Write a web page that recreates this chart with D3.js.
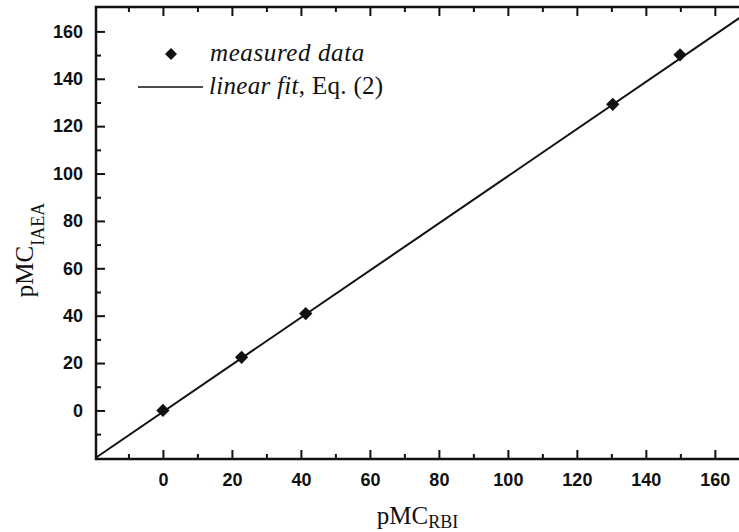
<!DOCTYPE html>
<html>
<head>
<meta charset="utf-8">
<script src="https://cdn.jsdelivr.net/npm/d3@7"></script>
<style>
  body { margin: 0; background: #fff; }
  .tick text { font-family: "Liberation Sans", Arial, sans-serif; font-size: 18px; font-weight: bold; fill: #111; }
</style>
</head>
<body>
<script>
// measured points (pMC RBI vs pMC IAEA)
var pmcRbi  = [0, 22.8, 41.4, 130.4, 149.9];
var pmcIaea = [0, 22.4, 40.9, 129.2, 150.1];

// linear fit, Eq. (2), end points
var fitX = [-20, 170];
var fitY = [-20.5, 168.5];

var majorTicks = [0, 20, 40, 60, 80, 100, 120, 140, 160];
var minorTicksX = [-10, 10, 30, 50, 70, 90, 110, 130, 150];
var minorTicksY = [-10, 10, 30, 50, 70, 90, 110, 130, 150];

var W = 739, H = 532;
var plotL = 96, plotR = 739, plotT = 7, plotB = 459;

var svg = d3.select('body')
  .append('svg')
  .attr('width', W)
  .attr('height', H);

var x = d3.scaleLinear().domain([-19.4, 167]).range([plotL, plotR]);
var y = d3.scaleLinear().domain([-20.5, 170.3]).range([plotB, plotT]);

svg.append('clipPath').attr('id', 'plot')
  .append('rect')
  .attr('x', plotL).attr('y', plotT)
  .attr('width', plotR - plotL).attr('height', plotB - plotT);

// axes - ticks point inward
function styleAxis(g) {
  g.select('.domain').remove();
  g.selectAll('.tick line').attr('stroke', '#111').attr('stroke-width', 2);
}

svg.append('g')
  .attr('transform', 'translate(0,' + plotB + ')')
  .call(d3.axisBottom(x).tickValues(majorTicks).tickSize(-9).tickPadding(14))
  .call(styleAxis);
svg.append('g')
  .attr('transform', 'translate(0,' + plotB + ')')
  .call(d3.axisBottom(x).tickValues(minorTicksX).tickSize(-5).tickFormat(''))
  .call(styleAxis);

svg.append('g')
  .attr('transform', 'translate(0,' + plotT + ')')
  .call(d3.axisTop(x).tickValues(majorTicks).tickSize(-9).tickFormat(''))
  .call(styleAxis);
svg.append('g')
  .attr('transform', 'translate(0,' + plotT + ')')
  .call(d3.axisTop(x).tickValues(minorTicksX).tickSize(-5).tickFormat(''))
  .call(styleAxis);

svg.append('g')
  .attr('transform', 'translate(' + plotL + ',0)')
  .call(d3.axisLeft(y).tickValues(majorTicks).tickSize(-9).tickPadding(13))
  .call(styleAxis);
svg.append('g')
  .attr('transform', 'translate(' + plotL + ',0)')
  .call(d3.axisLeft(y).tickValues(minorTicksY).tickSize(-5).tickFormat(''))
  .call(styleAxis);

// frame lines (left, bottom, top)
svg.append('path')
  .attr('d', 'M' + plotR + ',' + plotT + 'H' + plotL + 'V' + plotB + 'H' + plotR)
  .attr('fill', 'none')
  .attr('stroke', '#111')
  .attr('stroke-width', 2.5);

// fit line
svg.append('line')
  .attr('clip-path', 'url(#plot)')
  .attr('x1', x(fitX[0])).attr('y1', y(fitY[0]))
  .attr('x2', x(fitX[1])).attr('y2', y(fitY[1]))
  .attr('stroke', '#111')
  .attr('stroke-width', 2);

// data points
var diamond = d3.symbol().type(d3.symbolSquare).size(88);
svg.selectAll('path.pt')
  .data(pmcRbi)
  .enter()
  .append('path')
  .attr('class', 'pt')
  .attr('d', diamond)
  .attr('fill', '#111')
  .attr('transform', function(d, i) {
    return 'translate(' + x(d) + ',' + y(pmcIaea[i]) + ') rotate(45)';
  });

// legend
svg.append('path')
  .attr('d', d3.symbol().type(d3.symbolSquare).size(72))
  .attr('fill', '#111')
  .attr('transform', 'translate(171,54) rotate(45)');
svg.append('text')
  .attr('x', 210).attr('y', 61)
  .style('font-family', '"Liberation Serif", "Times New Roman", serif')
  .style('font-style', 'italic')
  .style('font-size', '25px')
  .style('letter-spacing', '0.6px')
  .style('fill', '#111')
  .text('measured data');

svg.append('line')
  .attr('x1', 138).attr('x2', 203)
  .attr('y1', 87).attr('y2', 87)
  .attr('stroke', '#111')
  .attr('stroke-width', 1.5);
var leg2 = svg.append('text')
  .attr('x', 209).attr('y', 94)
  .style('font-family', '"Liberation Serif", "Times New Roman", serif')
  .style('font-size', '25px')
  .style('letter-spacing', '0.3px')
  .style('fill', '#111');
leg2.append('tspan').style('font-style', 'italic').text('linear fit');
leg2.append('tspan').text(', Eq. (2)');

// axis titles
var xt = svg.append('text')
  .attr('x', (plotL + plotR) / 2).attr('y', 524)
  .attr('text-anchor', 'middle')
  .style('font-family', '"Liberation Serif", "Times New Roman", serif')
  .style('font-size', '25px')
  .style('fill', '#111');
xt.append('tspan').text('pMC');
xt.append('tspan').attr('dy', 4).style('font-size', '18px').text('RBI');

var yt = svg.append('text')
  .attr('transform', 'translate(33,250) rotate(-90)')
  .attr('text-anchor', 'middle')
  .style('font-family', '"Liberation Serif", "Times New Roman", serif')
  .style('font-size', '25px')
  .style('fill', '#111');
yt.append('tspan').text('pMC');
yt.append('tspan').attr('dy', 11).style('font-size', '18px').text('IAEA');
</script>
</body>
</html>
